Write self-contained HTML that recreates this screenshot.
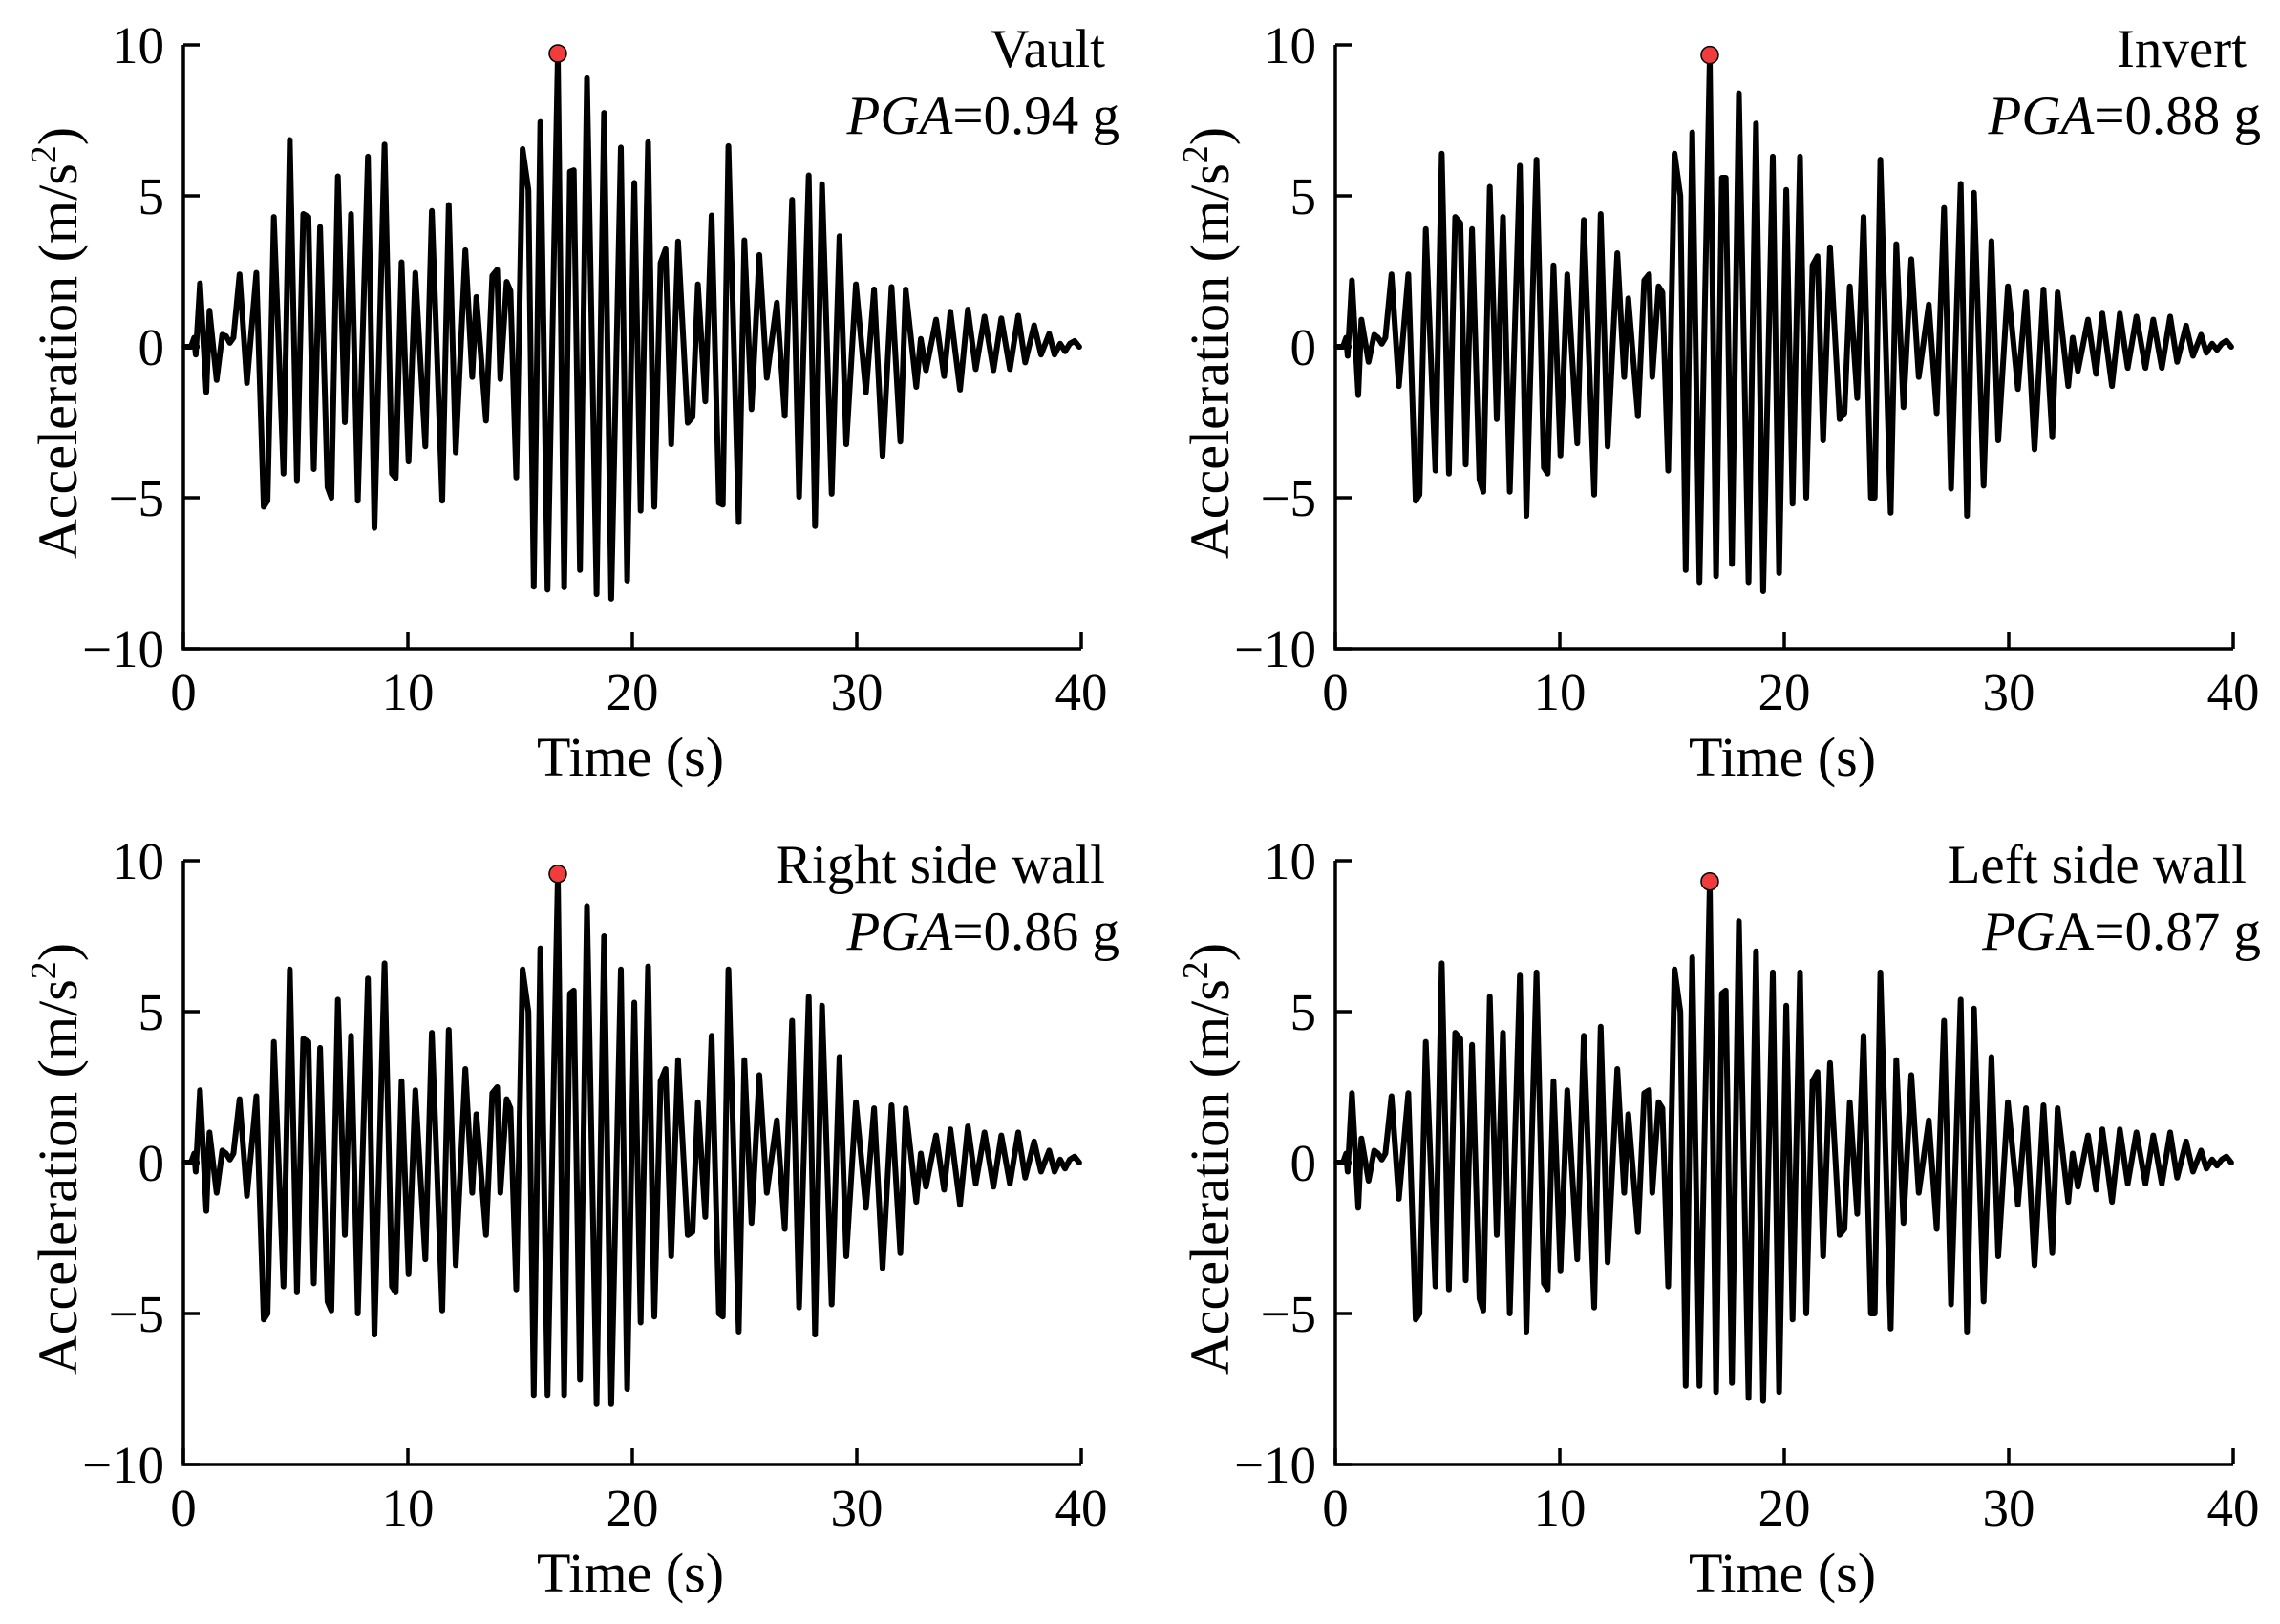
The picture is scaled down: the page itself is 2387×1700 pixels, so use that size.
<!DOCTYPE html>
<html><head><meta charset="utf-8">
<style>
html,body{margin:0;padding:0;background:#fff;}
svg{display:block;font-family:"Liberation Serif","DejaVu Serif",serif;}
</style></head>
<body>
<svg id="fig" width="2387" height="1700" viewBox="0 0 2387 1700" xmlns="http://www.w3.org/2000/svg"></svg>
<script>
const times = [0.05,0.34,0.48,0.55,0.74,1.02,1.16,1.48,1.73,1.90,2.07,2.23,2.50,2.83,3.25,3.58,3.75,4.03,4.46,4.74,5.06,5.34,5.57,5.81,6.09,6.42,6.59,6.88,7.19,7.47,7.77,8.22,8.51,8.96,9.29,9.46,9.72,10.03,10.33,10.78,11.07,11.53,11.82,12.13,12.56,12.87,13.05,13.48,13.76,13.98,14.12,14.40,14.57,14.83,15.11,15.37,15.61,15.90,16.22,16.68,16.96,17.22,17.39,17.67,17.98,18.41,18.74,19.06,19.49,19.77,20.09,20.37,20.70,20.98,21.26,21.48,21.73,22.04,22.47,22.68,22.92,23.25,23.53,23.86,24.03,24.28,24.74,24.99,25.31,25.66,25.99,26.44,26.79,27.12,27.43,27.86,28.14,28.45,28.88,29.23,29.53,29.96,30.41,30.77,31.15,31.55,31.94,32.18,32.65,32.85,33.08,33.53,33.89,34.17,34.60,34.95,35.30,35.69,36.09,36.44,36.82,37.19,37.50,37.90,38.21,38.57,38.81,39.06,39.28,39.49,39.70,39.91];
const vaultValues = [0,0,0.3,-0.26,2.1,-1.5,1.2,-1.1,0.4,0.35,0.13,0.3,2.4,-1.2,2.45,-5.3,-5.1,4.3,-4.2,6.85,-4.45,4.4,4.3,-4.05,3.97,-4.65,-5.0,5.65,-2.5,4.4,-5.1,6.3,-6.0,6.7,-4.2,-4.35,2.8,-3.8,2.45,-3.3,4.5,-5.1,4.7,-3.5,3.2,-1.0,1.65,-2.45,2.35,2.55,-1.07,2.15,1.85,-4.33,6.55,5.2,-7.95,7.45,-8.05,9.65,-7.97,5.8,5.85,-7.4,8.9,-8.2,7.75,-8.35,6.6,-7.75,5.43,-5.43,6.78,-5.3,2.78,3.23,-3.23,3.49,-2.52,-2.33,2.07,-1.81,4.35,-5.17,-5.23,6.65,-5.81,3.53,-2.07,3.04,-1.03,1.46,-2.29,4.87,-4.97,5.68,-5.94,5.39,-4.87,3.66,-3.23,2.07,-1.51,1.9,-3.62,1.98,-3.14,1.9,-1.33,0.26,-0.78,0.9,-0.97,1.16,-1.42,1.23,-0.74,1.0,-0.78,0.94,-0.74,1.03,-0.52,0.71,-0.26,0.43,-0.26,0.1,-0.15,0.1,0.19,0];
const invertValues = [0,0,0.3,-0.3,2.2,-1.6,0.9,-0.5,0.4,0.3,0.1,0.3,2.4,-1.3,2.4,-5.1,-4.9,3.9,-4.1,6.4,-4.2,4.3,4.1,-3.9,3.9,-4.4,-4.8,5.3,-2.4,4.3,-4.8,6.0,-5.6,6.2,-4.0,-4.2,2.7,-3.6,2.4,-3.2,4.2,-4.9,4.4,-3.3,3.1,-1.0,1.6,-2.3,2.2,2.4,-1.0,2.0,1.8,-4.1,6.4,5.0,-7.4,7.1,-7.8,9.6,-7.6,5.6,5.6,-7.2,8.4,-7.8,7.4,-8.1,6.3,-7.5,5.2,-5.2,6.3,-5.0,2.7,3.0,-3.1,3.3,-2.4,-2.2,2.0,-1.7,4.3,-5.0,-5.0,6.2,-5.5,3.4,-2.0,2.9,-1.0,1.4,-2.2,4.6,-4.7,5.4,-5.6,5.1,-4.6,3.5,-3.1,2.0,-1.4,1.8,-3.4,1.9,-3.0,1.8,-1.3,0.3,-0.8,0.9,-0.9,1.1,-1.3,1.1,-0.7,1.0,-0.7,0.9,-0.7,1.0,-0.5,0.7,-0.3,0.4,-0.2,0.1,-0.1,0.1,0.2,0];
const rightWallValues = [0,0,0.3,-0.3,2.4,-1.6,1.0,-1.0,0.4,0.3,0.1,0.3,2.1,-1.1,2.2,-5.2,-5.0,4.0,-4.1,6.4,-4.3,4.1,4.0,-4.0,3.8,-4.6,-4.9,5.4,-2.4,4.2,-5.0,6.1,-5.7,6.6,-4.1,-4.3,2.7,-3.7,2.4,-3.2,4.3,-4.9,4.4,-3.4,3.1,-1.0,1.6,-2.4,2.3,2.5,-1.0,2.1,1.8,-4.2,6.4,5.0,-7.7,7.1,-7.7,9.5,-7.7,5.6,5.7,-7.2,8.5,-8.0,7.5,-8.0,6.4,-7.5,5.3,-5.3,6.5,-5.1,2.7,3.1,-3.1,3.4,-2.4,-2.3,2.0,-1.8,4.2,-5.0,-5.1,6.4,-5.6,3.4,-2.0,2.9,-1.0,1.4,-2.2,4.7,-4.8,5.5,-5.7,5.2,-4.7,3.5,-3.1,2.0,-1.5,1.8,-3.5,1.9,-3.0,1.8,-1.3,0.3,-0.8,0.9,-0.9,1.1,-1.4,1.2,-0.7,1.0,-0.8,0.9,-0.7,1.0,-0.5,0.7,-0.3,0.4,-0.3,0.1,-0.2,0.1,0.2,0];
const leftWallValues = [0,0,0.3,-0.3,2.3,-1.5,0.8,-0.6,0.4,0.3,0.1,0.3,2.2,-1.2,2.3,-5.2,-5.0,4.0,-4.1,6.6,-4.2,4.3,4.1,-3.9,3.9,-4.5,-4.9,5.5,-2.4,4.3,-5.0,6.2,-5.6,6.3,-4.0,-4.2,2.7,-3.6,2.4,-3.2,4.2,-4.8,4.5,-3.3,3.1,-1.0,1.6,-2.3,2.3,2.4,-1.0,2.0,1.8,-4.1,6.4,5.0,-7.4,6.8,-7.4,9.25,-7.6,5.6,5.7,-7.3,8.0,-7.8,7.0,-7.9,6.3,-7.6,5.2,-5.2,6.3,-5.0,2.7,3.0,-3.1,3.3,-2.4,-2.2,2.0,-1.7,4.2,-5.0,-5.0,6.3,-5.5,3.4,-2.0,2.9,-1.0,1.4,-2.2,4.7,-4.7,5.4,-5.6,5.1,-4.6,3.5,-3.1,2.0,-1.4,1.8,-3.4,1.9,-3.0,1.8,-1.3,0.3,-0.8,0.9,-0.9,1.1,-1.3,1.1,-0.7,1.0,-0.7,0.9,-0.7,1.0,-0.5,0.7,-0.3,0.4,-0.2,0.1,-0.1,0.1,0.2,0];
const xTicks = [0,10,20,30,40];
const yTicks = [10,5,0,-5,-10];
const yTickLabels = ["10","5","0","\u22125","\u221210"];
const panelTitles = ["Vault","Invert","Right side wall","Left side wall"];
const panelPGA = ["0.94","0.88","0.86","0.87"];

const NS = "http://www.w3.org/2000/svg";
const svg = document.getElementById('fig');
function mk(tag, attrs, parent){
  const e = document.createElementNS(NS, tag);
  for (const k in attrs) e.setAttribute(k, attrs[k]);
  (parent||svg).appendChild(e);
  return e;
}
const panels = [
  {ox:192, oy:47, vals:vaultValues, name:'vault'},
  {ox:1398, oy:47, vals:invertValues, name:'invert'},
  {ox:192, oy:901, vals:rightWallValues, name:'right-side-wall'},
  {ox:1398, oy:901, vals:leftWallValues, name:'left-side-wall'}
];
const W = 940, H = 632;
panels.forEach((p, i) => {
  const g = mk('g', {});
  
  
  const xs = t => p.ox + t / 40 * W;
  const ys = v => p.oy + (10 - v) / 20 * H;
  const ax = mk('path', {d:`M${p.ox},${p.oy} V${p.oy+H} H${p.ox+W}`, fill:'none', stroke:'#000', 'stroke-width':3.5}, g);
  
  
  yTicks.forEach((v, k) => {
    const y = ys(v);
    const tk = mk('line', {x1:p.ox, x2:p.ox+17, y1:y, y2:y, stroke:'#000', 'stroke-width':3.5}, g);
    
    
    const tl = mk('text', {x:p.ox-20, y:y+19, 'text-anchor':'end', 'font-size':55}, g);
    tl.textContent = yTickLabels[k];
    
    
  });
  xTicks.forEach(t => {
    const x = xs(t);
    const tk = mk('line', {x1:x, x2:x, y1:p.oy+H, y2:p.oy+H-17, stroke:'#000', 'stroke-width':3.5}, g);
    
    
    const tl = mk('text', {x:x, y:p.oy+H+64, 'text-anchor':'middle', 'font-size':55}, g);
    tl.textContent = String(t);
    
    
  });
  const xt = mk('text', {x:p.ox+W/2-2, y:p.oy+H+133, 'text-anchor':'middle', 'font-size':58}, g);
  xt.textContent = 'Time (s)';
  
  
  const yt = mk('text', {x:0, y:0, 'text-anchor':'middle', 'font-size':58, transform:`translate(${p.ox-112},${p.oy+H/2-4}) rotate(-90)`}, g);
  yt.innerHTML = 'Acceleration (m/s<tspan dy="-22" font-size="38">2</tspan><tspan dy="22">)</tspan>';
  
  
  let d = '';
  times.forEach((t, k) => { d += (k ? 'L' : 'M') + xs(t).toFixed(1) + ',' + ys(p.vals[k]).toFixed(1); });
  const line = mk('path', {d:d, fill:'none', stroke:'#000', 'stroke-width':6, 'stroke-linejoin':'round', 'stroke-linecap':'round'}, g);
  
  
  let mi = 0;
  p.vals.forEach((v, k) => { if (Math.abs(v) > Math.abs(p.vals[mi])) mi = k; });
  const dot = mk('circle', {cx:xs(times[mi]), cy:ys(p.vals[mi]) - 2, r:9, fill:'#f03c3c', stroke:'#000', 'stroke-width':1.5}, g);
  
  
  const rx = i % 2 === 0 ? p.ox + 965 : p.ox + 954;
  const t1 = mk('text', {x:rx, y:p.oy+23, 'text-anchor':'end', 'font-size':57}, g);
  t1.textContent = panelTitles[i];
  
  
  const t2 = mk('text', {x:rx+15, y:p.oy+93, 'text-anchor':'end', 'font-size':57}, g);
  if (i === 3) t2.innerHTML = '<tspan font-style="italic">PG</tspan>A=' + panelPGA[i] + ' g';
  else t2.innerHTML = '<tspan font-style="italic">PGA</tspan>=' + panelPGA[i] + ' g';
  
  
});
</script>
</body></html>
